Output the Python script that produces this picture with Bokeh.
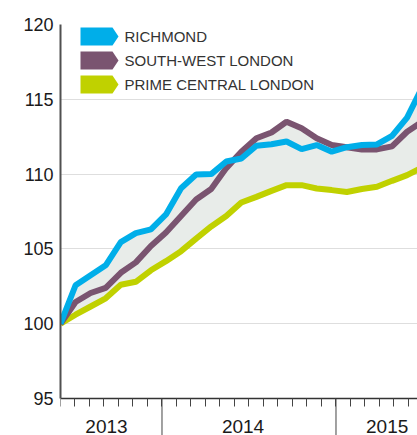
import numpy as np
from bokeh.plotting import figure
from bokeh.models import Range1d, FixedTicker, Label, PolyAnnotation
from bokeh.core.properties import value
from bokeh.embed import file_html
from bokeh.resources import INLINE

# ---- data (index, June 2013 = 100), one point per period ----
periods = list(range(25))
richmond = [100.0, 102.57, 103.24, 103.9, 105.45, 106.05, 106.3, 107.3, 109.05, 109.97,
            110.0, 110.84, 111.04, 111.9, 112.0, 112.18, 111.67, 111.94, 111.5, 111.8,
            111.94, 111.98, 112.55, 113.78, 115.8]
south_west = [100.0, 101.45, 102.05, 102.4, 103.4, 104.1, 105.2, 106.1, 107.2, 108.3,
              109.0, 110.4, 111.5, 112.4, 112.78, 113.5, 113.06, 112.39, 111.94, 111.8,
              111.65, 111.65, 111.85, 112.83, 113.5]
prime_central = [100.0, 100.6, 101.15, 101.7, 102.6, 102.8, 103.57, 104.18, 104.85, 105.69,
                 106.5, 107.2, 108.1, 108.48, 108.88, 109.26, 109.26, 109.04, 108.93, 108.8,
                 109.0, 109.15, 109.55, 109.93, 110.45]
series_names = ["RICHMOND", "SOUTH-WEST LONDON", "PRIME CENTRAL LONDON"]
y_ticks = [95, 100, 105, 110, 115, 120]
year_labels = ["2013", "2014", "2015"]
year_label_months = [3.17, 12.59, 22.53]   # label centres, months after June 2013
year_start_months = [7, 19]                # January 2014, January 2015
n_months = 25                              # monthly ticks June 2013 .. June 2015

# ---- layout ----
W, H = 417, 435
LEFT, TOP = 60, 24
AXIS_PX = 398                     # pixel row of the value 95
X_END = 23.69
MONTH = 14.5 / 15.07              # one calendar month, in period units
PX_PER_UNIT = (AXIS_PX - TOP) / 25.0
Y_BOTTOM = 95 - (H - AXIS_PX) / PX_PER_UNIT
FONT = "Liberation Sans"
BLUE, PURPLE, GREEN = "#00aee9", "#7a5470", "#c0d100"
AXIS_DARK = "#444444"

p = figure(width=W, height=H, output_backend="svg", toolbar_location=None,
           x_range=Range1d(0, X_END), y_range=Range1d(Y_BOTTOM, 120),
           min_border_left=LEFT, min_border_right=0, min_border_top=TOP,
           min_border_bottom=0)
p.outline_line_color = None
p.background_fill_color = "white"
p.border_fill_color = "white"


def sx(px):
    return (px - LEFT) / (W - LEFT) * X_END


def sy(py):
    return 120 - (py - TOP) / PX_PER_UNIT


# grid
p.xgrid.visible = False
p.ygrid.ticker = FixedTicker(ticks=y_ticks)
p.ygrid.grid_line_color = "#dedede"
p.ygrid.grid_line_width = 1

# y axis
p.yaxis.ticker = FixedTicker(ticks=y_ticks)
p.yaxis.bounds = (95, 120)
p.yaxis.major_tick_out = 0
p.yaxis.major_tick_in = 0
p.yaxis.minor_tick_out = 0
p.yaxis.minor_tick_in = 0
p.yaxis.axis_line_color = "#505050"
p.yaxis.axis_line_width = 2
p.yaxis.major_label_text_font = FONT
p.yaxis.major_label_text_font_size = "18px"
p.yaxis.major_label_text_color = "#1a1a1a"
p.yaxis.major_label_standoff = 7

# x axis at 95: monthly ticks
p.xaxis.fixed_location = 95
p.xaxis.ticker = FixedTicker(ticks=[], minor_ticks=[m * MONTH for m in range(n_months)])
p.xaxis.axis_line_color = "#333333"
p.xaxis.axis_line_width = 1.5
p.xaxis.major_tick_out = 8
p.xaxis.major_tick_in = 0
p.xaxis.minor_tick_out = 8
p.xaxis.minor_tick_in = 0
p.xaxis.major_tick_line_color = AXIS_DARK
p.xaxis.minor_tick_line_color = AXIS_DARK
p.xaxis.major_label_standoff = 0

# band between lowest and highest series
upper = np.maximum(np.array(richmond), np.array(south_west))
p.varea(x=periods, y1=prime_central, y2=upper, fill_color="#e8ece9")

p.line(periods, prime_central, line_width=6, line_color=GREEN)
p.line(periods, south_west, line_width=6, line_color=PURPLE)
p.line(periods, richmond, line_width=6, line_color=BLUE)

# year separators and year labels below the axis
bounds = [m * MONTH for m in year_start_months]
p.segment(x0=bounds, y0=[95] * len(bounds), x1=bounds, y1=[Y_BOTTOM] * len(bounds),
          line_color=AXIS_DARK, line_width=1)
p.text(x=[m * MONTH for m in year_label_months], y=[sy(425.5)] * len(year_labels),
       text=year_labels, text_align="center", text_baseline="middle",
       text_font=value(FONT), text_font_size="19px", text_color="#1a1a1a")

# legend: arrow swatches + text
for i, (name, col) in enumerate(zip(series_names, [BLUE, PURPLE, GREEN])):
    yc = 36 + 24 * i
    xs = [sx(80), sx(112), sx(118), sx(112), sx(80)]
    ys = [sy(yc - 9), sy(yc - 9), sy(yc), sy(yc + 9), sy(yc + 9)]
    p.add_layout(PolyAnnotation(xs=xs, ys=ys, fill_color=col, fill_alpha=1,
                                line_color=None))
    p.add_layout(Label(x=sx(124), y=sy(yc), text=name, text_baseline="middle",
                       text_font=FONT, text_font_size="15px",
                       text_color="#333333"))

open("out.html", "w").write(file_html(p, INLINE))
